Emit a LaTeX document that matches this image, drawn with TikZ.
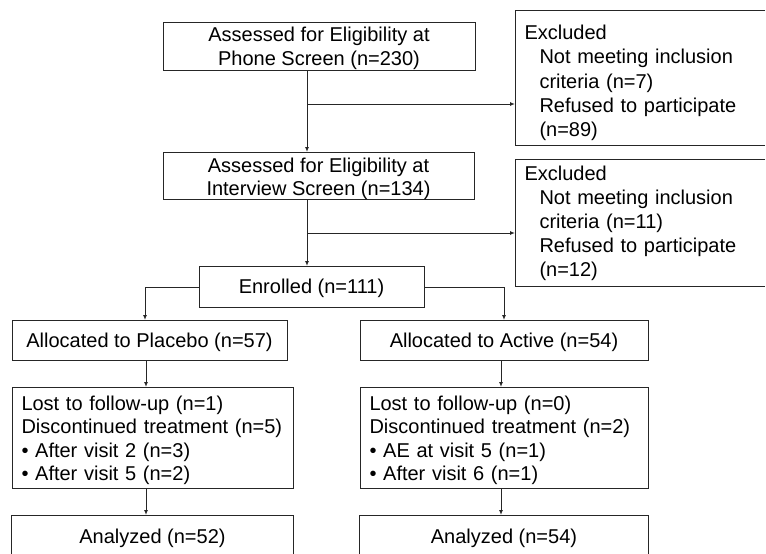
\documentclass[tikz,border=0pt]{standalone}
\usepackage{fontspec}
\setmainfont{Liberation Sans}
\usetikzlibrary{arrows.meta}
\newcommand{\tstr}[1]{\rule{0pt}{#1pt}}
\newcommand{\bstr}[1]{\rule[-#1pt]{0pt}{0pt}}
\newcommand{\ind}{\hspace*{15pt}}
\begin{document}
\begin{tikzpicture}[x=1pt,y=-1pt,
  line/.style={draw=black!85, line width=1pt},
  box/.style={line, rectangle, inner sep=0pt, anchor=north, align=center,
    font=\fontsize{20pt}{#1pt}\selectfont},
  box/.default=24,
  lbox/.style={line, rectangle, inner ysep=0pt, inner xsep=9pt, anchor=north west, align=left,
    font=\fontsize{20pt}{#1pt}\selectfont},
  lbox/.default=24,
  obox/.style={lbox=#1, draw=none, text width=230pt},
  arr/.style={line, -{Latex[length=5pt,width=4pt]}}]
\useasboundingbox (0,0) rectangle (766,554);
% boxes
\node[box=24, minimum width=312pt] (phone) at (319,22)
  {\tstr{19}Assessed for Eligibility at\\Phone Screen (n=230)\bstr{5}};
\node[box=23, minimum width=311pt] (interview) at (318.5,152)
  {\tstr{20}Assessed for Eligibility at\\Interview Screen (n=134)\bstr{4}};
\node[obox=24.3] (excl1) at (515,10)
  {\tstr{29}Excluded\\\ind Not meeting inclusion\\\ind criteria (n=7)\\\ind Refused to participate\\\ind(n=89)\bstr{7.8}};
\node[obox=24] (excl2) at (515,159)
  {\tstr{21}Excluded\\\ind Not meeting inclusion\\\ind criteria (n=11)\\\ind Refused to participate\\\ind(n=12)\bstr{9}};
\node[box, minimum width=225pt] (enrolled) at (311.5,266)
  {\tstr{27}Enrolled (n=111)\bstr{14}};
\node[box, minimum width=275pt] (placebo) at (149.5,320)
  {\tstr{27}Allocated to Placebo (n=57)\bstr{13}};
\node[box, minimum width=288pt] (active) at (504,320)
  {\tstr{27}Allocated to Active (n=54)\bstr{13}};
\node[lbox=23.33, text width=263pt] (lost1) at (12,387)
  {\tstr{23}Lost to follow-up (n=1)\\Discontinued treatment (n=5)\\• After visit 2 (n=3)\\• After visit 5 (n=2)\bstr{8}};
\node[lbox=23.33, text width=270pt] (lost2) at (360,387)
  {\tstr{23}Lost to follow-up (n=0)\\Discontinued treatment (n=2)\\• AE at visit 5 (n=1)\\• After visit 6 (n=1)\bstr{8}};
\node[box, minimum width=281pt, draw=none] (anal1) at (152.5,515)
  {\tstr{28}Analyzed (n=52)\bstr{18}};
\node[box, minimum width=288pt, draw=none] (anal2) at (504,515)
  {\tstr{28}Analyzed (n=54)\bstr{18}};
% open (cut-off) box outlines
\coordinate (edge) at (765,554);
\draw[line] (excl1.north west -| edge) -- (excl1.north west) -- (excl1.south west) -- (excl1.south west -| edge);
\draw[line] (excl2.north west -| edge) -- (excl2.north west) -- (excl2.south west) -- (excl2.south west -| edge);
\draw[line] (anal1.south west |- edge) -- (anal1.north west) -- (anal1.north east) -- (anal1.south east |- edge);
\draw[line] (anal2.south west |- edge) -- (anal2.north west) -- (anal2.north east) -- (anal2.south east |- edge);
% connectors
\coordinate (j1) at (307,104);
\coordinate (j2) at (307,233);
\coordinate (cL) at (146,0);
\coordinate (cR) at (501,0);
\draw[arr] (phone.south -| j1) -- (interview.north -| j1);
\draw[arr] (j1) -- (j1 -| excl1.west);
\draw[arr] (interview.south -| j2) -- (enrolled.north -| j2);
\draw[arr] (j2) -- (j2 -| excl2.west);
\draw[arr] (enrolled.west) -| ([xshift=-4.5pt]placebo.north);
\draw[arr] (enrolled.east) -| (active.north);
\draw[arr] (placebo.south -| cL) -- (lost1.north -| cL);
\draw[arr] (lost1.south -| cL) -- (anal1.north -| cL);
\draw[arr] (active.south -| cR) -- (lost2.north -| cR);
\draw[arr] (lost2.south -| cR) -- (anal2.north -| cR);
\end{tikzpicture}
\end{document}
